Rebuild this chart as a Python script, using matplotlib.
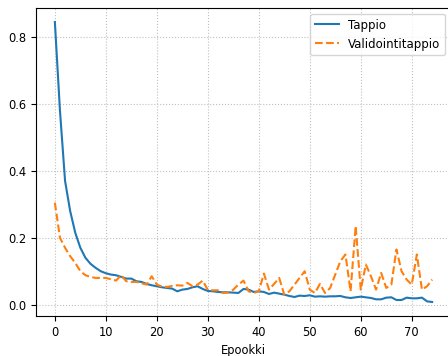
import matplotlib
matplotlib.use("Agg")
import matplotlib.pyplot as plt

epochs = list(range(75))

loss = [0.845, 0.58, 0.37, 0.28, 0.215, 0.17, 0.14, 0.122, 0.11, 0.10,
        0.094, 0.09, 0.088, 0.083, 0.078, 0.078, 0.07, 0.068, 0.062, 0.058,
        0.055, 0.052, 0.05, 0.048, 0.04, 0.045, 0.047, 0.052, 0.055, 0.047,
        0.041, 0.04, 0.038, 0.037, 0.037, 0.036, 0.035, 0.047, 0.045, 0.038,
        0.04, 0.038, 0.032, 0.036, 0.033, 0.03, 0.026, 0.023, 0.027, 0.026,
        0.028, 0.024, 0.025, 0.024, 0.025, 0.025, 0.026, 0.022, 0.02, 0.022,
        0.024, 0.022, 0.02, 0.016, 0.016, 0.021, 0.022, 0.014, 0.014, 0.021,
        0.019, 0.019, 0.021, 0.01, 0.008]

val_loss = [0.305, 0.2, 0.17, 0.145, 0.125, 0.1, 0.088, 0.083, 0.08, 0.08,
            0.08, 0.076, 0.072, 0.088, 0.07, 0.068, 0.068, 0.064, 0.06, 0.085,
            0.06, 0.054, 0.053, 0.056, 0.058, 0.057, 0.065, 0.055, 0.06, 0.072,
            0.044, 0.043, 0.043, 0.035, 0.036, 0.045, 0.06, 0.072, 0.04, 0.035,
            0.04, 0.093, 0.045, 0.062, 0.08, 0.03, 0.04, 0.06, 0.08, 0.1,
            0.045, 0.035, 0.062, 0.035, 0.05, 0.09, 0.13, 0.15, 0.04, 0.235,
            0.045, 0.12, 0.085, 0.045, 0.095, 0.05, 0.06, 0.165, 0.1, 0.075,
            0.06, 0.15, 0.045, 0.055, 0.075]

plt.rcParams['font.size'] = 8.3

fig = plt.figure(figsize=(4.48, 3.56), dpi=100)
ax = fig.add_axes([36 / 448, 40 / 356, 415 / 448, 308 / 356])
ax.plot(epochs, loss, label='Tappio', linewidth=1.5)
ax.plot(epochs, val_loss, '--', label='Validointitappio', linewidth=1.5)
ax.set_xlabel('Epookki')
ax.grid(linestyle=':', color='#c0c0c0')
ax.legend(loc='upper right', fontsize=8.5)
fig.savefig('out.png', dpi=100)
